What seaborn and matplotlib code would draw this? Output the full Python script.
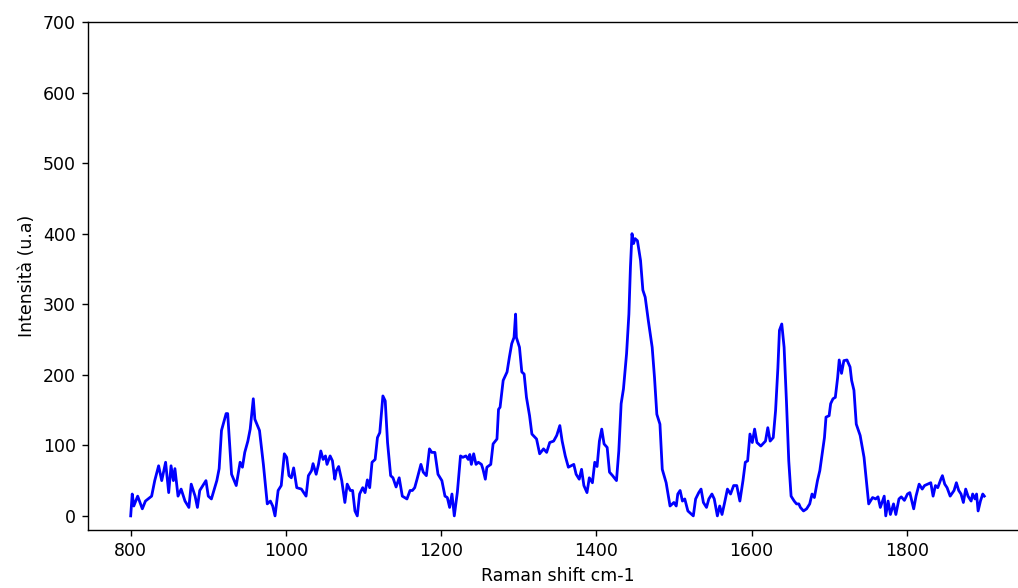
import matplotlib
matplotlib.use("Agg")
import matplotlib.pyplot as plt
import seaborn as sns
import pandas as pd

# Raman shift (cm-1)
shift = [
    800, 802, 804, 809, 815, 819, 827, 831, 836, 840,
    845, 849, 852, 855, 857, 861, 865, 870, 875, 878,
    883, 886, 889, 897, 900, 904, 911, 914, 917, 923,
    925, 930, 936, 941, 944, 947, 951, 954, 958, 960,
    966, 971, 976, 980, 983, 986, 990, 994, 998, 1001,
    1004, 1007, 1010, 1014, 1020, 1026, 1029, 1033, 1035, 1039,
    1042, 1045, 1048, 1051, 1053, 1057, 1060, 1063, 1065, 1068,
    1072, 1076, 1079, 1083, 1086, 1089, 1092, 1095, 1099, 1102,
    1105, 1108, 1111, 1115, 1118, 1121, 1125, 1128, 1131, 1135,
    1138, 1142, 1146, 1150, 1156, 1160, 1163, 1166, 1169, 1174,
    1177, 1181, 1185, 1188, 1192, 1196, 1201, 1205, 1208, 1211,
    1214, 1217, 1221, 1225, 1228, 1232, 1235, 1237, 1239, 1242,
    1245, 1248, 1252, 1254, 1257, 1259, 1264, 1267, 1272, 1274,
    1276, 1280, 1285, 1288, 1291, 1294, 1296, 1297, 1301, 1304,
    1307, 1310, 1314, 1317, 1323, 1327, 1332, 1336, 1340, 1345,
    1349, 1353, 1356, 1360, 1364, 1371, 1374, 1378, 1381, 1384,
    1388, 1391, 1395, 1398, 1401, 1404, 1407, 1410, 1414, 1417,
    1421, 1426, 1429, 1432, 1435, 1439, 1442, 1444, 1446, 1448,
    1450, 1453, 1457, 1460, 1463, 1467, 1472, 1475, 1478, 1482,
    1485, 1490, 1495, 1500, 1503, 1505, 1508, 1511, 1514, 1518,
    1525, 1528, 1532, 1535, 1538, 1542, 1545, 1549, 1552, 1556,
    1559, 1562, 1565, 1569, 1573, 1577, 1581, 1585, 1589, 1592,
    1595, 1598, 1601, 1604, 1607, 1612, 1618, 1621, 1624, 1628,
    1631, 1634, 1636, 1639, 1642, 1645, 1648, 1651, 1655, 1658,
    1661, 1663, 1667, 1671, 1675, 1678, 1681, 1685, 1688, 1691,
    1694, 1696, 1700, 1702, 1705, 1708, 1711, 1713, 1716, 1719,
    1723, 1727, 1729, 1732, 1735, 1740, 1745, 1748, 1751, 1756,
    1760, 1763, 1766, 1771, 1773, 1776, 1779, 1783, 1786, 1790,
    1793, 1797, 1801, 1804, 1807, 1809, 1812, 1816, 1820, 1823,
    1827, 1831, 1834, 1837, 1840, 1844, 1846, 1849, 1852, 1856,
    1861, 1864, 1867, 1870, 1873, 1876, 1879, 1883, 1885, 1888,
    1890, 1892, 1895, 1898, 1900,
]

# Intensity (u.a)
intensity = [
    0, 31, 14, 28, 10, 21, 28, 50, 71, 50,
    76, 33, 71, 50, 67, 28, 38, 21, 12, 45,
    28, 12, 36, 50, 28, 24, 50, 67, 121, 145,
    145, 59, 43, 76, 69, 90, 106, 123, 166, 137,
    121, 73, 17, 21, 14, 0, 36, 43, 88, 83,
    57, 54, 68, 40, 38, 28, 57, 64, 74, 59,
    73, 92, 80, 85, 73, 85, 78, 52, 64, 70,
    50, 19, 45, 36, 36, 7, 0, 31, 40, 33,
    51, 40, 76, 80, 111, 118, 170, 163, 104, 57,
    54, 41, 54, 28, 24, 36, 36, 40, 52, 73,
    62, 57, 95, 90, 90, 59, 50, 28, 26, 12,
    31, 0, 34, 85, 83, 85, 80, 87, 73, 88,
    73, 76, 73, 66, 52, 69, 73, 102, 109, 151,
    154, 192, 204, 225, 244, 253, 286, 253, 239, 204,
    201, 168, 142, 116, 109, 88, 95, 90, 104, 106,
    114, 128, 106, 85, 69, 73, 59, 52, 66, 43,
    33, 54, 47, 76, 70, 106, 123, 102, 97, 62,
    57, 50, 92, 159, 180, 230, 286, 353, 400, 386,
    393, 390, 362, 320, 310, 277, 239, 196, 144, 130,
    66, 47, 14, 19, 14, 31, 36, 21, 24, 7,
    0, 24, 33, 38, 19, 12, 24, 31, 24, 0,
    14, 2, 17, 38, 31, 43, 43, 21, 50, 76,
    78, 116, 104, 123, 104, 99, 106, 125, 106, 111,
    149, 210, 263, 272, 239, 163, 78, 28, 21, 17,
    17, 12, 7, 10, 17, 31, 26, 50, 64, 88,
    111, 140, 142, 159, 166, 168, 196, 221, 202, 220,
    221, 211, 192, 178, 130, 114, 83, 50, 17, 26,
    24, 27, 12, 28, 0, 21, 2, 17, 2, 24,
    27, 22, 31, 33, 19, 10, 28, 45, 38, 43,
    45, 47, 28, 43, 40, 52, 57, 45, 40, 28,
    36, 47, 36, 31, 19, 38, 28, 21, 31, 24,
    31, 7, 21, 31, 28,
]

x_label = "Raman shift cm-1"
y_label = "Intensità (u.a)"

assert len(shift) == len(intensity)
df = pd.DataFrame({"shift": shift, "intensity": intensity})

DPI = 125
fig = plt.figure(figsize=(1018 / DPI, 588 / DPI), dpi=DPI)
ax = fig.add_axes([88 / 1018, 58 / 588, 939 / 1018, 508 / 588])

sns.lineplot(data=df, x="shift", y="intensity", color="blue", linewidth=1.6,
             ax=ax, estimator=None)
ax.set_ylim(top=700)
ax.set_xlabel(x_label)
ax.set_ylabel(y_label)
ax.spines["right"].set_visible(False)

fig.savefig("out.png", dpi=DPI)
